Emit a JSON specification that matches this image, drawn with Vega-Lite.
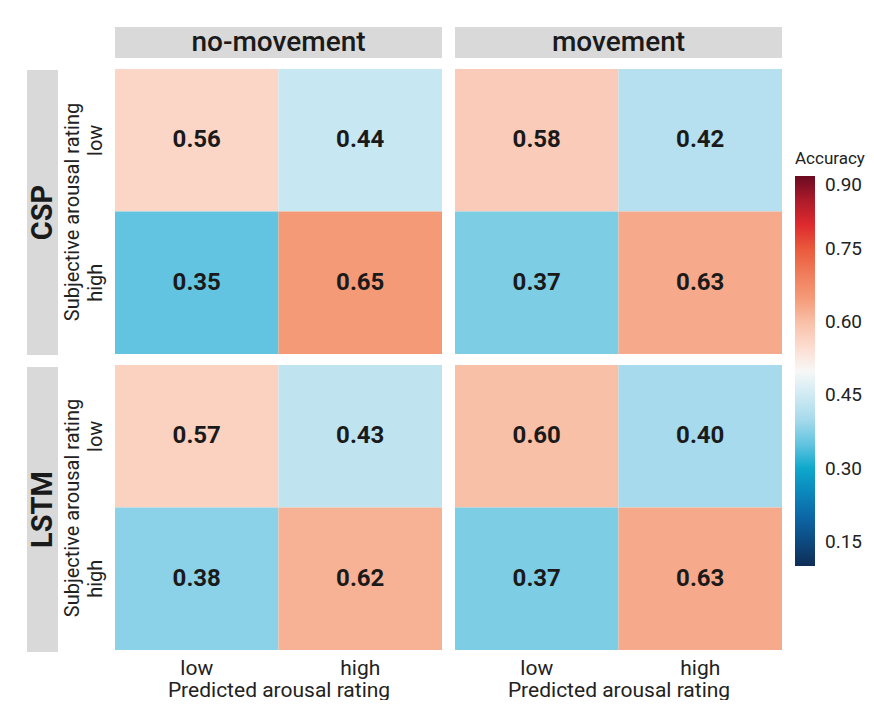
{
  "$schema": "https://vega.github.io/schema/vega-lite/v6.json",
  "padding": {"left": 27, "top": 27, "right": 0, "bottom": 0},
  "config": {
    "font": "Roboto",
    "view": {"stroke": null},
    "axis": {"labelColor": "#222222", "titleColor": "#222222"}
  },
  "data": {
    "values": [
      {"model": "CSP", "condition": "no-movement", "actual": "low", "predicted": "low", "acc": 0.56},
      {"model": "CSP", "condition": "no-movement", "actual": "low", "predicted": "high", "acc": 0.44},
      {"model": "CSP", "condition": "no-movement", "actual": "high", "predicted": "low", "acc": 0.35},
      {"model": "CSP", "condition": "no-movement", "actual": "high", "predicted": "high", "acc": 0.65},
      {"model": "CSP", "condition": "movement", "actual": "low", "predicted": "low", "acc": 0.58},
      {"model": "CSP", "condition": "movement", "actual": "low", "predicted": "high", "acc": 0.42},
      {"model": "CSP", "condition": "movement", "actual": "high", "predicted": "low", "acc": 0.37},
      {"model": "CSP", "condition": "movement", "actual": "high", "predicted": "high", "acc": 0.63},
      {"model": "LSTM", "condition": "no-movement", "actual": "low", "predicted": "low", "acc": 0.57},
      {"model": "LSTM", "condition": "no-movement", "actual": "low", "predicted": "high", "acc": 0.43},
      {"model": "LSTM", "condition": "no-movement", "actual": "high", "predicted": "low", "acc": 0.38},
      {"model": "LSTM", "condition": "no-movement", "actual": "high", "predicted": "high", "acc": 0.62},
      {"model": "LSTM", "condition": "movement", "actual": "low", "predicted": "low", "acc": 0.60},
      {"model": "LSTM", "condition": "movement", "actual": "low", "predicted": "high", "acc": 0.40},
      {"model": "LSTM", "condition": "movement", "actual": "high", "predicted": "low", "acc": 0.37},
      {"model": "LSTM", "condition": "movement", "actual": "high", "predicted": "high", "acc": 0.63}
    ]
  },
  "spacing": 4,
  "hconcat": [
    {
      "spacing": 12,
      "vconcat": [
        {
          "width": 31, "height": 31,
          "data": {"values": [{"label": ""}]},
          "mark": {"type": "rect", "opacity": 0},
          "encoding": {}
        },
        {
          "width": 31, "height": 285,
          "data": {"values": [{"label": "CSP"}]},
          "layer": [
            {"mark": {"type": "rect", "color": "#d9d9d9"}, "encoding": {}},
            {"mark": {"type": "text", "angle": -90, "fontSize": 29, "fontWeight": "bold", "color": "#1a1a1a"}, "encoding": {"text": {"field": "label"}}}
          ]
        },
        {
          "width": 31, "height": 285,
          "data": {"values": [{"label": "LSTM"}]},
          "layer": [
            {"mark": {"type": "rect", "color": "#d9d9d9"}, "encoding": {}},
            {"mark": {"type": "text", "angle": -90, "fontSize": 29, "fontWeight": "bold", "color": "#1a1a1a"}, "encoding": {"text": {"field": "label"}}}
          ]
        }
      ]
    },
    {
      "columns": 2,
      "align": "each",
      "bounds": "flush",
      "spacing": {"row": 11, "column": 13},
      "concat": [
        {
          "width": 327, "height": 31,
          "data": {"values": [{"label": "no-movement"}]},
          "layer": [
            {"mark": {"type": "rect", "color": "#d9d9d9"}, "encoding": {}},
            {"mark": {"type": "text", "fontSize": 28, "fontWeight": 500, "color": "#1a1a1a"}, "encoding": {"text": {"field": "label"}}}
          ]
        },
        {
          "width": 327, "height": 31,
          "data": {"values": [{"label": "movement"}]},
          "layer": [
            {"mark": {"type": "rect", "color": "#d9d9d9"}, "encoding": {}},
            {"mark": {"type": "text", "fontSize": 28, "fontWeight": 500, "color": "#1a1a1a"}, "encoding": {"text": {"field": "label"}}}
          ]
        },
        {
          "width": 327, "height": 285,
          "transform": [{"filter": "datum.model === 'CSP' && datum.condition === 'no-movement'"}],
          "encoding": {
            "x": {"field": "predicted", "type": "nominal", "sort": ["low", "high"], "axis": null},
            "y": {"field": "actual", "type": "nominal", "sort": ["low", "high"], "axis": {"title": "Subjective arousal rating", "titleFontSize": 20, "titleFontWeight": "normal", "titlePadding": 3, "labelFontSize": 20, "labelAngle": -90, "labelAlign": "center", "labelBaseline": "bottom", "labelPadding": 10, "ticks": false, "domain": false}}
          },
          "layer": [
            {"mark": "rect", "encoding": {"color": {"field": "acc", "type": "quantitative", "scale": {"domain": [0.1, 0.15, 0.2, 0.25, 0.3, 0.35, 0.4, 0.45, 0.5, 0.55, 0.6, 0.65, 0.7, 0.75, 0.8, 0.85, 0.9], "range": ["#0f2d55", "#0c4a80", "#0c66a6", "#0b87bb", "#0ea8cc", "#62c4e0", "#a6daec", "#cfeaf3", "#f7f7f7", "#fcdccf", "#f9c0a8", "#f59a77", "#f07c5a", "#ea5a3c", "#de2a2e", "#ad1b2a", "#6b0a22"], "interpolate": "rgb"}, "legend": {"title": "Accuracy", "orient": "none", "legendX": 768, "legendY": 124, "titleFontSize": 17, "titleFontWeight": "normal", "titleColor": "#222222", "titlePadding": 8, "labelFontSize": 19, "labelColor": "#222222", "labelOffset": 10, "gradientLength": 390, "gradientThickness": 20, "gradientStrokeWidth": 0, "values": [0.15, 0.3, 0.45, 0.6, 0.75, 0.9], "format": ".2f"}}}},
            {"mark": {"type": "text", "fontSize": 24, "fontWeight": "bold", "color": "#1a1a1a"}, "encoding": {"text": {"field": "acc", "type": "quantitative", "format": ".2f"}}}
          ]
        },
        {
          "width": 327, "height": 285,
          "transform": [{"filter": "datum.model === 'CSP' && datum.condition === 'movement'"}],
          "encoding": {
            "x": {"field": "predicted", "type": "nominal", "sort": ["low", "high"], "axis": null},
            "y": {"field": "actual", "type": "nominal", "sort": ["low", "high"], "axis": null}
          },
          "layer": [
            {"mark": "rect", "encoding": {"color": {"field": "acc", "type": "quantitative", "scale": {"domain": [0.1, 0.15, 0.2, 0.25, 0.3, 0.35, 0.4, 0.45, 0.5, 0.55, 0.6, 0.65, 0.7, 0.75, 0.8, 0.85, 0.9], "range": ["#0f2d55", "#0c4a80", "#0c66a6", "#0b87bb", "#0ea8cc", "#62c4e0", "#a6daec", "#cfeaf3", "#f7f7f7", "#fcdccf", "#f9c0a8", "#f59a77", "#f07c5a", "#ea5a3c", "#de2a2e", "#ad1b2a", "#6b0a22"], "interpolate": "rgb"}}}},
            {"mark": {"type": "text", "fontSize": 24, "fontWeight": "bold", "color": "#1a1a1a"}, "encoding": {"text": {"field": "acc", "type": "quantitative", "format": ".2f"}}}
          ]
        },
        {
          "width": 327, "height": 285,
          "transform": [{"filter": "datum.model === 'LSTM' && datum.condition === 'no-movement'"}],
          "encoding": {
            "x": {"field": "predicted", "type": "nominal", "sort": ["low", "high"], "axis": {"title": "Predicted arousal rating", "titleFontSize": 21, "titleFontWeight": "normal", "titlePadding": 1, "labelFontSize": 21, "labelAngle": 0, "labelPadding": 7, "ticks": false, "domain": false}},
            "y": {"field": "actual", "type": "nominal", "sort": ["low", "high"], "axis": {"title": "Subjective arousal rating", "titleFontSize": 20, "titleFontWeight": "normal", "titlePadding": 3, "labelFontSize": 20, "labelAngle": -90, "labelAlign": "center", "labelBaseline": "bottom", "labelPadding": 10, "ticks": false, "domain": false}}
          },
          "layer": [
            {"mark": "rect", "encoding": {"color": {"field": "acc", "type": "quantitative", "scale": {"domain": [0.1, 0.15, 0.2, 0.25, 0.3, 0.35, 0.4, 0.45, 0.5, 0.55, 0.6, 0.65, 0.7, 0.75, 0.8, 0.85, 0.9], "range": ["#0f2d55", "#0c4a80", "#0c66a6", "#0b87bb", "#0ea8cc", "#62c4e0", "#a6daec", "#cfeaf3", "#f7f7f7", "#fcdccf", "#f9c0a8", "#f59a77", "#f07c5a", "#ea5a3c", "#de2a2e", "#ad1b2a", "#6b0a22"], "interpolate": "rgb"}}}},
            {"mark": {"type": "text", "fontSize": 24, "fontWeight": "bold", "color": "#1a1a1a"}, "encoding": {"text": {"field": "acc", "type": "quantitative", "format": ".2f"}}}
          ]
        },
        {
          "width": 327, "height": 285,
          "transform": [{"filter": "datum.model === 'LSTM' && datum.condition === 'movement'"}],
          "encoding": {
            "x": {"field": "predicted", "type": "nominal", "sort": ["low", "high"], "axis": {"title": "Predicted arousal rating", "titleFontSize": 21, "titleFontWeight": "normal", "titlePadding": 1, "labelFontSize": 21, "labelAngle": 0, "labelPadding": 7, "ticks": false, "domain": false}},
            "y": {"field": "actual", "type": "nominal", "sort": ["low", "high"], "axis": null}
          },
          "layer": [
            {"mark": "rect", "encoding": {"color": {"field": "acc", "type": "quantitative", "scale": {"domain": [0.1, 0.15, 0.2, 0.25, 0.3, 0.35, 0.4, 0.45, 0.5, 0.55, 0.6, 0.65, 0.7, 0.75, 0.8, 0.85, 0.9], "range": ["#0f2d55", "#0c4a80", "#0c66a6", "#0b87bb", "#0ea8cc", "#62c4e0", "#a6daec", "#cfeaf3", "#f7f7f7", "#fcdccf", "#f9c0a8", "#f59a77", "#f07c5a", "#ea5a3c", "#de2a2e", "#ad1b2a", "#6b0a22"], "interpolate": "rgb"}}}},
            {"mark": {"type": "text", "fontSize": 24, "fontWeight": "bold", "color": "#1a1a1a"}, "encoding": {"text": {"field": "acc", "type": "quantitative", "format": ".2f"}}}
          ]
        }
      ]
    }
  ]
}
